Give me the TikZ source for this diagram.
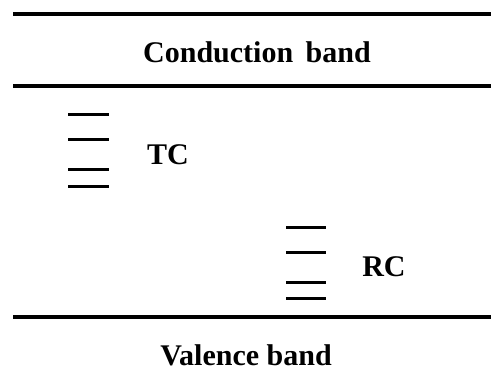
\documentclass[tikz,border=0pt]{standalone}
\usepackage{fontspec}
\setmainfont{Liberation Serif}
\usetikzlibrary{positioning}

\begin{document}
\begin{tikzpicture}[x=1pt, y=-1pt,
  band/.style={line width=4pt},
  level/.style={line width=3pt},
  lbl/.style={font=\fontsize{30}{36}\selectfont\bfseries, inner sep=0pt}]
\useasboundingbox (0,0) rectangle (491,388);
\draw[band] (13,14) -- (491,14);
\draw[band] (13,86) -- (491,86);
\draw[band] (13,317) -- (491,317);
\node[lbl] (cb) at (257,52) {Conduction\, band};
\node[lbl] (vb) at (246,355) {Valence band};
% trap centres
\foreach \y in {114,139,169,186}
  \draw[level] (68,\y) -- (109,\y);
\node[lbl] (tc) at (168,155) {TC};
% recombination centres
\foreach \y in {227,252,282,298}
  \draw[level] (286,\y) -- (326,\y);
\node[lbl] (rc) at (384,267) {RC};
\end{tikzpicture}
\end{document}
